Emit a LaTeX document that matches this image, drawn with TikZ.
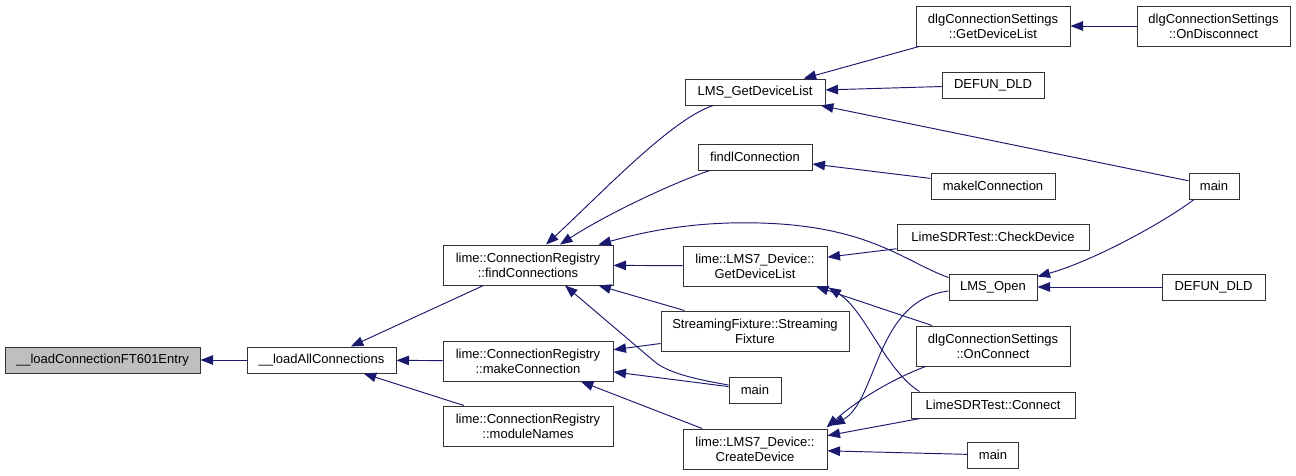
\documentclass[tikz,border=0pt]{standalone}
\usepackage{fontspec}
\setmainfont{Liberation Sans}
\usetikzlibrary{arrows.meta,calc}
\definecolor{edgeblue}{HTML}{191970}
\definecolor{rootgray}{HTML}{BFBFBF}
\newcommand{\dfnt}{\fontsize{13}{15}\selectfont}
\tikzset{
  box/.style={draw=black!80, line width=1pt, fill=white, inner sep=0pt, align=center, font=\dfnt, text=black},
  rootbox/.style={box, fill=rootgray},
  edge/.style={draw=edgeblue, line width=0.95pt, -{Triangle[length=12.5pt,width=9.5pt]}},
}
\begin{document}
\begin{tikzpicture}[x=1pt,y=-1pt]
\useasboundingbox[fill=white] (0,0) rectangle (1296,475);
% nodes
\node[rootbox, minimum width=195, minimum height=26] (n0) at (102.5,360) {\_\_loadConnectionFT601Entry};
\node[box, minimum width=149, minimum height=26] (n1) at (321.5,360) {\_\_loadAllConnections};
\node[box, minimum width=170, minimum height=40] (fc) at (528,265) {lime::ConnectionRegistry\\::findConnections};
\node[box, minimum width=170, minimum height=40] (mc) at (528,361) {lime::ConnectionRegistry\\::makeConnection};
\node[box, minimum width=170, minimum height=40] (mn) at (528,426) {lime::ConnectionRegistry\\::moduleNames};
\node[box, minimum width=140, minimum height=26] (lgdl) at (755,92) {LMS\_GetDeviceList};
\node[box, minimum width=114, minimum height=26] (fic) at (755,157) {findlConnection};
\node[box, minimum width=144, minimum height=40] (gdl7) at (755,266) {lime::LMS7\_Device::\\GetDeviceList};
\node[box, minimum width=188, minimum height=40] (sf) at (755,331) {StreamingFixture::Streaming\\Fixture};
\node[box, minimum width=52, minimum height=26] (main1) at (755,390) {main};
\node[box, minimum width=144, minimum height=40] (cd) at (755,449) {lime::LMS7\_Device::\\CreateDevice};
\node[box, minimum width=154, minimum height=40] (dgdl) at (993,26) {dlgConnectionSettings\\::GetDeviceList};
\node[box, minimum width=102, minimum height=26] (defun1) at (993,85) {DEFUN\_DLD};
\node[box, minimum width=124, minimum height=26] (mic) at (993,186) {makelConnection};
\node[box, minimum width=192, minimum height=26] (lsc) at (993,237) {LimeSDRTest::CheckDevice};
\node[box, minimum width=88, minimum height=26] (lmo) at (993,287) {LMS\_Open};
\node[box, minimum width=154, minimum height=40] (doc) at (993,346) {dlgConnectionSettings\\::OnConnect};
\node[box, minimum width=164, minimum height=26] (lcon) at (993,405) {LimeSDRTest::Connect};
\node[box, minimum width=51, minimum height=26] (main3) at (993,455) {main};
\node[box, minimum width=153, minimum height=40] (dod) at (1213.5,26) {dlgConnectionSettings\\::OnDisconnect};
\node[box, minimum width=50, minimum height=26] (main2) at (1214,186) {main};
\node[box, minimum width=103, minimum height=26] (defun2) at (1213.5,287) {DEFUN\_DLD};
% edges
\draw[edge] (n1) -- (n0);
\draw[edge] (fc) -- (n1);
\draw[edge] (mc) -- (n1);
\draw[edge] (mn) -- (n1);
\draw[edge] ($(lgdl.south)+(-42,0)$) .. controls (670,120) and (600,195) .. ($(fc.north)+(18,0)$);
\draw[edge] ($(fic.south)+(-45,0)$) .. controls (680,180) and (610,212) .. ($(fc.north)+(32,0)$);
\draw[edge] ($(lmo.north west)+(0,4)$) .. controls (905,262) and (870,226) .. (760,223) .. controls (690,221) and (640,233) .. ($(fc.north east)+(-15,0)$);
\draw[edge] (gdl7) -- (fc);
\draw[edge] (sf) -- (fc);
\draw[edge] ($(main1.west)+(0,-5)$) .. controls (700,380) and (670,374) .. (655,362) -- ($(fc.south)+(37,0)$);
\draw[edge] (sf) -- (mc);
\draw[edge] (main1) -- (mc);
\draw[edge] (cd) -- (mc);
\draw[edge] (dgdl) -- (lgdl);
\draw[edge] (defun1) -- (lgdl);
\draw[edge] (main2) -- (lgdl);
\draw[edge] (dod) -- (dgdl);
\draw[edge] (mic) -- (fic);
\draw[edge] ($(main2.south)+(-20,0)$) .. controls (1160,225) and (1090,262) .. ($(lmo.north east)+(0,3)$);
\draw[edge] (defun2) -- (lmo);
\draw[edge] (lsc) -- (gdl7);
\draw[edge] (doc) -- (gdl7);
\draw[edge] ($(lcon.north west)+(9,0)$) .. controls (885,370) and (865,310) .. ($(gdl7.south east)+(1,1)$);
\draw[edge] ($(lmo.west)+(0,4)$) .. controls (875,300) and (878,400) .. ($(cd.north east)+(5,-3)$);
\draw[edge] ($(doc.south west)+(10,0)$) .. controls (895,378) and (860,398) .. ($(cd.north east)+(-1,-1)$);
\draw[edge] (lcon) -- (cd);
\draw[edge] (main3) -- (cd);
\end{tikzpicture}
\end{document}
